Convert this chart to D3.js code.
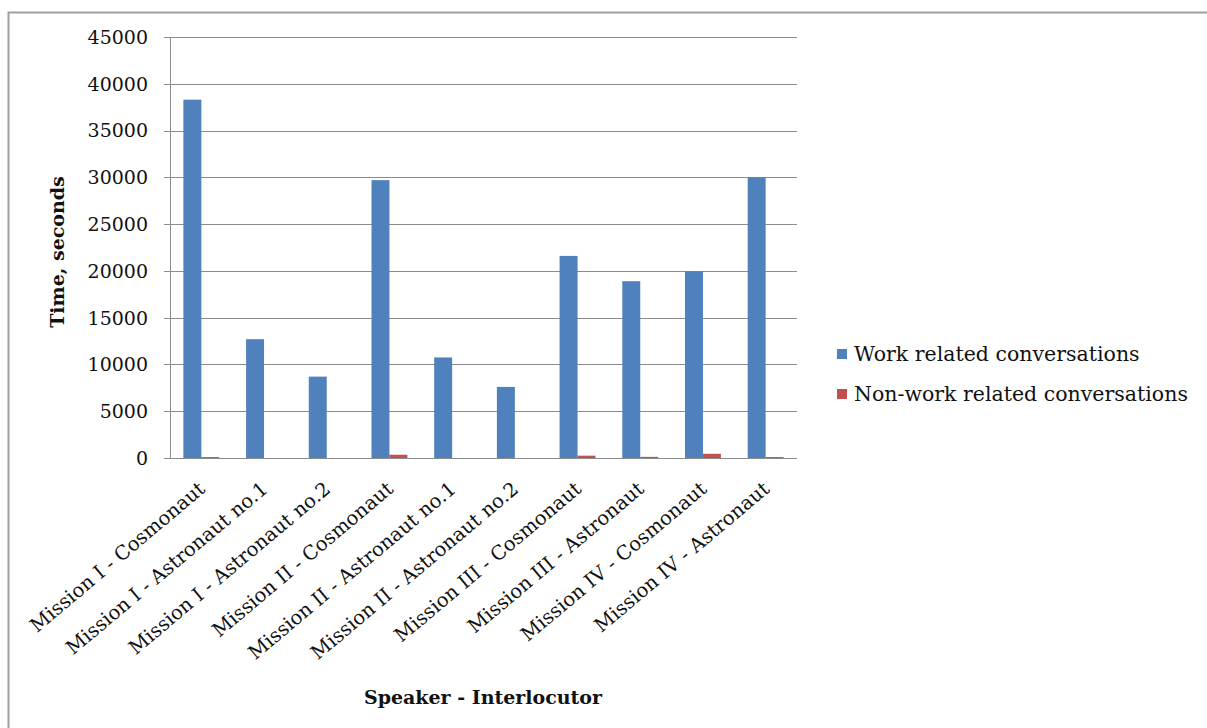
<!DOCTYPE html>
<html>
<head>
<meta charset="utf-8">
<title>Conversation time</title>
<script src="https://d3js.org/d3.v7.min.js"></script>
<style>
  body { margin: 0; background: #fff; }
  text { font-family: "DejaVu Serif", "Liberation Serif", serif; fill: #111; }
  .grid line { stroke: #8c8c8c; stroke-width: 1; }
</style>
</head>
<body>
<svg id="chart" width="1207" height="728"></svg>
<script>
// data
const categories = [
  "Mission I - Cosmonaut",
  "Mission I - Astronaut no.1",
  "Mission I - Astronaut no.2",
  "Mission II - Cosmonaut",
  "Mission II - Astronaut no.1",
  "Mission II - Astronaut no.2",
  "Mission III - Cosmonaut",
  "Mission III - Astronaut",
  "Mission IV - Cosmonaut",
  "Mission IV - Astronaut"
];
const workValues    = [38300, 12700, 8700, 29700, 10750, 7600, 21600, 18900, 19950, 30000];
const nonWorkValues = [100, 0, 0, 350, 0, 0, 250, 120, 450, 100];
const seriesNames = ["Work related conversations", "Non-work related conversations"];
const seriesColors = ["#4f81bd", "#c0504d"];
const yTicks = [0, 5000, 10000, 15000, 20000, 25000, 30000, 35000, 40000, 45000];

const svg = d3.select("#chart");

// outer frame (only top and left visible)
svg.append("rect")
  .attr("x", 8.5).attr("y", 12.5)
  .attr("width", 1250).attr("height", 760)
  .attr("fill", "none")
  .attr("stroke", "#a0a0a0")
  .attr("stroke-width", 2);

const plot = { left: 170, right: 797, top: 37, bottom: 458 };

let x = d3.scaleBand()
  .domain(categories)
  .range([plot.left, plot.right])
  .paddingInner(0)
  .paddingOuter(0);

let xSub = d3.scaleBand()
  .domain([0, 1])
  .range([0, x.bandwidth()])
  .paddingOuter(0.745)
  .paddingInner(0);

let y = d3.scaleLinear()
  .domain([0, 45000])
  .range([plot.bottom, plot.top]);

// gridlines
svg.append("g")
  .attr("class", "grid")
  .selectAll("line")
  .data(yTicks)
  .enter().append("line")
    .attr("x1", plot.left - 6)
    .attr("x2", plot.right)
    .attr("y1", d => Math.round(y(d)) + 0.5)
    .attr("y2", d => Math.round(y(d)) + 0.5);

// y axis line
svg.append("line")
  .attr("x1", plot.left + 0.5).attr("x2", plot.left + 0.5)
  .attr("y1", plot.top).attr("y2", plot.bottom)
  .attr("stroke", "#8c8c8c");

// y tick labels
svg.append("g")
  .selectAll("text")
  .data(yTicks)
  .enter().append("text")
    .attr("x", plot.left - 22)
    .attr("y", d => y(d))
    .attr("dy", "0.36em")
    .attr("text-anchor", "end")
    .attr("font-size", 19)
    .text(d => d);

// bars
const groups = svg.append("g")
  .selectAll("g")
  .data(categories)
  .enter().append("g")
    .attr("transform", d => `translate(${x(d)},0)`);

groups.append("rect")
  .attr("x", xSub(0))
  .attr("width", xSub.bandwidth())
  .attr("y", (d, i) => y(workValues[i]))
  .attr("height", (d, i) => y(0) - y(workValues[i]))
  .attr("fill", seriesColors[0]);

groups.append("rect")
  .attr("x", xSub(1))
  .attr("width", xSub.bandwidth())
  .attr("y", (d, i) => y(nonWorkValues[i]))
  .attr("height", (d, i) => y(0) - y(nonWorkValues[i]))
  .attr("fill", seriesColors[1]);

// category labels rotated
svg.append("g")
  .selectAll("text")
  .data(categories)
  .enter().append("text")
    .attr("transform", d => `translate(${x(d) + x.bandwidth() / 2 + 5},${plot.bottom + 33}) rotate(-40)`)
    .attr("text-anchor", "end")
    .attr("font-size", 19.5)
    .text(d => d);

// axis titles
svg.append("text")
  .attr("x", 483)
  .attr("y", 704)
  .attr("text-anchor", "middle")
  .attr("font-size", 19)
  .attr("font-weight", "bold")
  .text("Speaker - Interlocutor");

svg.append("text")
  .attr("transform", "translate(64,252) rotate(-90)")
  .attr("text-anchor", "middle")
  .attr("font-size", 19)
  .attr("font-weight", "bold")
  .text("Time, seconds");

// legend
const legend = svg.append("g")
  .selectAll("g")
  .data(seriesNames)
  .enter().append("g")
    .attr("transform", (d, i) => `translate(837,${354 + i * 40})`);

legend.append("rect")
  .attr("x", 0).attr("y", -5)
  .attr("width", 10).attr("height", 10)
  .attr("fill", (d, i) => seriesColors[i]);

legend.append("text")
  .attr("x", 17)
  .attr("dy", "0.36em")
  .attr("font-size", 20.5)
  .text(d => d);
</script>
</body>
</html>
